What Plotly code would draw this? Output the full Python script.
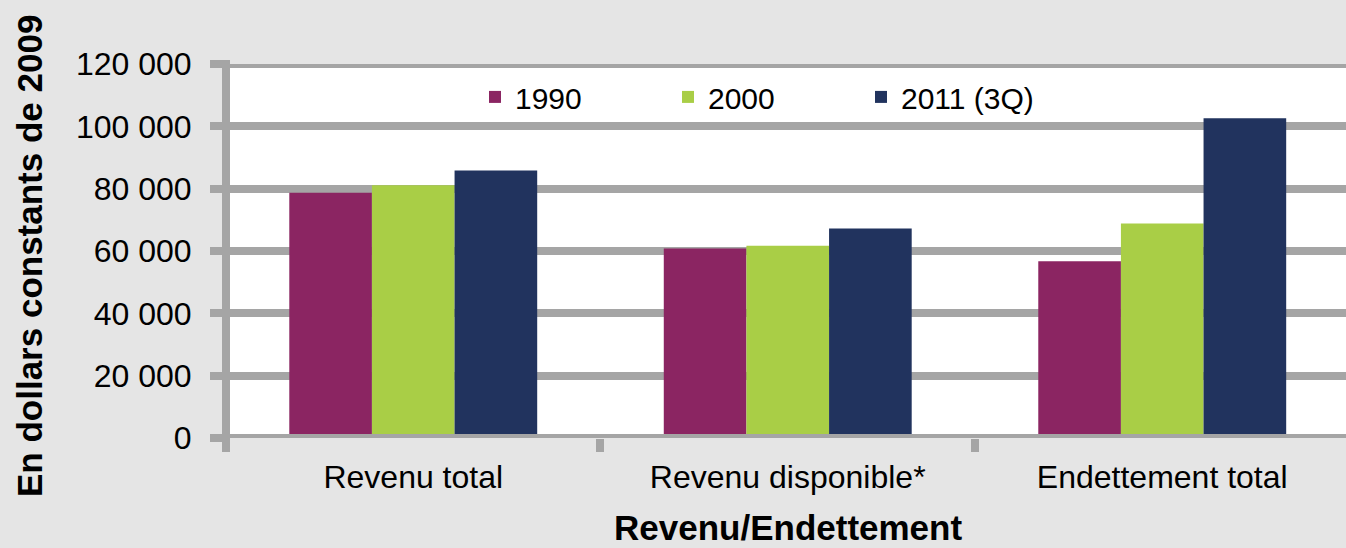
import plotly.graph_objects as go

# ---- data ----
categories = ["Revenu total", "Revenu disponible*", "Endettement total"]
series_names = ["1990", "2000", "2011 (3Q)"]
values_1990 = [78700, 60800, 56700]
values_2000 = [81100, 61700, 68800]
values_2011 = [85800, 67200, 102600]
y_tick_values = [0, 20000, 40000, 60000, 80000, 100000, 120000]
y_tick_labels = ["0", "20 000", "40 000", "60 000", "80 000", "100 000", "120 000"]
y_title = "En dollars constants de 2009"
x_title = "Revenu/Endettement"

# ---- style ----
colors = ["#8B2562", "#A9CE46", "#21335E"]
grid_color = "#A5A5A5"
bg_color = "#E5E5E5"
font_family = "Liberation Sans, Arial, Helvetica, sans-serif"

fig = go.Figure()
for name, vals, col in zip(series_names, [values_1990, values_2000, values_2011], colors):
    fig.add_trace(go.Bar(
        x=categories, y=vals, name=name,
        marker=dict(color=col, line=dict(width=0)),
        hoverinfo="x+y+name",
    ))

fig.update_layout(
    width=1346, height=548,
    margin=dict(l=226, r=0, t=64, b=110, pad=0),
    paper_bgcolor=bg_color,
    plot_bgcolor="white",
    barmode="group",
    bargap=0.338,
    bargroupgap=0,
    font=dict(family=font_family, color="black", size=32),
    showlegend=True,
    legend=dict(
        orientation="h",
        x=0.2223, xanchor="left",
        y=0.912, yanchor="middle",
        bgcolor="rgba(0,0,0,0)",
        font=dict(size=30, color="black"),
        entrywidth=148, entrywidthmode="pixels",
        traceorder="normal",
    ),
    xaxis=dict(
        type="category",
        range=[-0.5, 2.4907],
        showgrid=False,
        zeroline=False,
        showline=False,
        ticks="outside",
        tickson="boundaries",
        ticklen=13,
        tickwidth=8,
        tickcolor=grid_color,
        ticklabelstandoff=17,
        tickfont=dict(size=32, color="black"),
        fixedrange=True,
    ),
    yaxis=dict(
        range=[0, 120000],
        tickmode="array",
        tickvals=y_tick_values,
        ticktext=y_tick_labels,
        showgrid=True,
        gridcolor=grid_color,
        gridwidth=8,
        zeroline=False,
        showline=False,
        ticks="outside",
        ticklen=15,
        tickwidth=8,
        tickcolor=grid_color,
        ticklabelstandoff=12,
        tickfont=dict(size=32, color="black"),
        fixedrange=True,
    ),
    shapes=[
        # baseline (value 0) drawn above bars
        dict(type="line", xref="paper", yref="y", x0=0, x1=1, y0=0, y1=0,
             line=dict(color=grid_color, width=8), layer="above"),
        # top line (value 120 000)
        dict(type="line", xref="paper", yref="y", x0=0, x1=1, y0=120000, y1=120000,
             line=dict(color=grid_color, width=8), layer="below"),
        # vertical axis line
        dict(type="line", xref="paper", yref="paper", x0=0, x1=0, y0=-0.0334, y1=1.0107,
             line=dict(color=grid_color, width=8), layer="above"),
    ],
    annotations=[
        dict(text="<b>" + y_title + "</b>", xref="paper", yref="paper",
             x=-0.1759, y=0.4866, xanchor="center", yanchor="middle",
             textangle=-90, showarrow=False, font=dict(size=35, color="black")),
        dict(text="<b>" + x_title + "</b>", xref="paper", yref="paper",
             x=0.5018, y=-0.2406, xanchor="center", yanchor="middle",
             showarrow=False, font=dict(size=35, color="black")),
    ],
)

fig.write_html("out.html")
